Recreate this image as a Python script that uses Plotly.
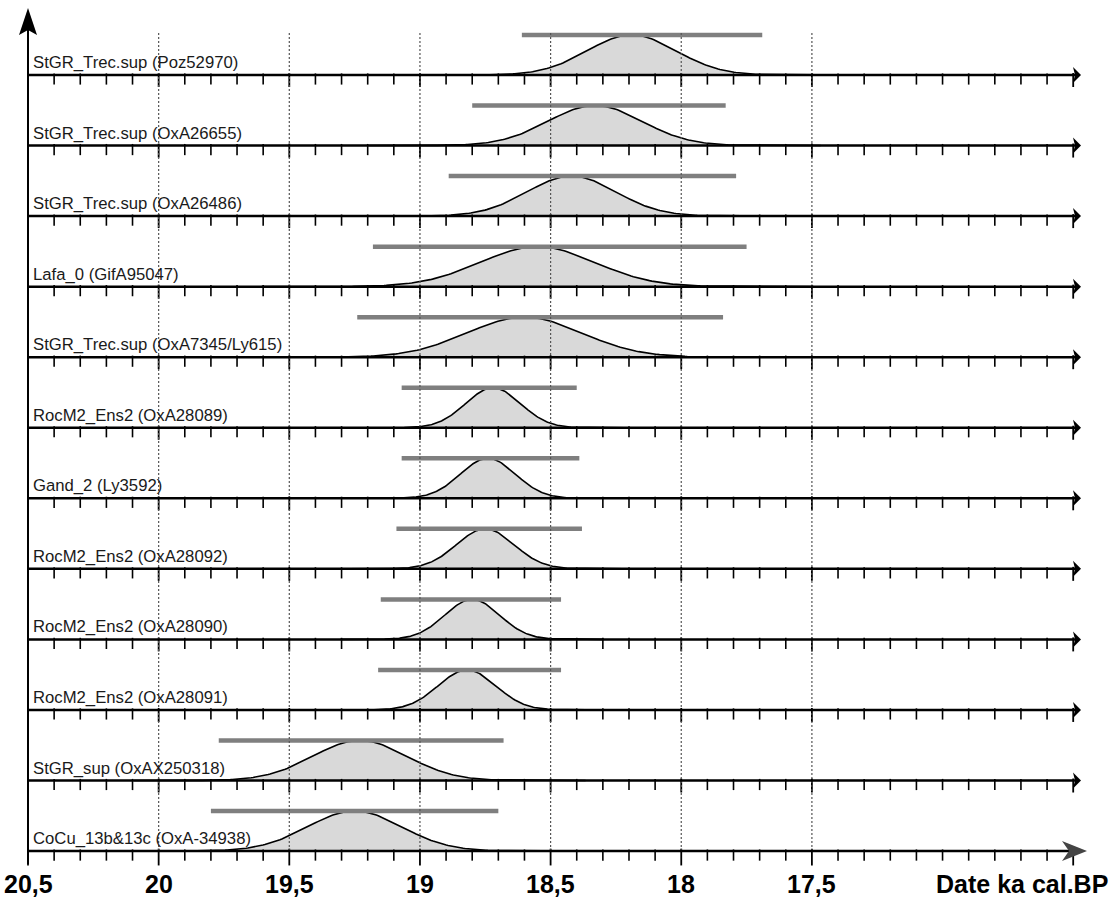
import numpy as np
import plotly.graph_objects as go

# ---------------- data ----------------
labels = [
    "StGR_Trec.sup (Poz52970)",
    "StGR_Trec.sup (OxA26655)",
    "StGR_Trec.sup (OxA26486)",
    "Lafa_0 (GifA95047)",
    "StGR_Trec.sup (OxA7345/Ly615)",
    "RocM2_Ens2 (OxA28089)",
    "Gand_2 (Ly3592)",
    "RocM2_Ens2 (OxA28092)",
    "RocM2_Ens2 (OxA28090)",
    "RocM2_Ens2 (OxA28091)",
    "StGR_sup (OxAX250318)",
    "CoCu_13b&13c (OxA-34938)",
]
centers = [18.19, 18.33, 18.42, 18.55, 18.60, 18.72, 18.74, 18.75, 18.80, 18.82, 19.23, 19.25]
sigmas = [0.17, 0.18, 0.17, 0.22, 0.22, 0.105, 0.105, 0.11, 0.105, 0.11, 0.18, 0.18]
range_old = [18.61, 18.80, 18.89, 19.18, 19.24, 19.07, 19.07, 19.09, 19.15, 19.16, 19.77, 19.80]
range_young = [17.69, 17.83, 17.79, 17.75, 17.84, 18.40, 18.39, 18.38, 18.46, 18.46, 18.68, 18.70]

major_ticks = [20.5, 20.0, 19.5, 19.0, 18.5, 18.0, 17.5]
major_tick_text = ["20,5", "20", "19,5", "19", "18,5", "18", "17,5"]
grid_vals = [20.0, 19.5, 19.0, 18.5, 18.0, 17.5]
long_tick_vals = [20.5, 20.0, 19.5, 19.0, 18.5, 18.0, 17.5, 16.5]
axis_title = "Date ka cal.BP"

# ---------------- layout helpers ----------------
W, H = 1115, 901
PX0 = 28.0      # pixel of 20.5 ka
PPK = 261.3     # pixels per ka


def vx(px):
    return 20.5 - (px - PX0) / PPK


def Y(py):
    return H - py


base_py = [75 + 70.55 * k for k in range(len(labels))]
PEAK = 40
FONT = "Liberation Sans, Arial, sans-serif"

fig = go.Figure()
shapes = []
annotations = []

# density curves
for k, (c, s) in enumerate(zip(centers, sigmas)):
    b = Y(base_py[k])
    xs = np.linspace(c - 4.8 * s, c + 4.8 * s, 240)
    ys = b + PEAK * np.exp(-0.5 * ((xs - c) / s) ** 2)
    fig.add_trace(go.Scatter(
        x=np.r_[xs[0], xs, xs[-1]], y=np.r_[b, ys, b],
        mode="lines", fill="toself", fillcolor="#d9d9d9",
        line=dict(color="black", width=1.6), hoverinfo="skip"))

# range bars
for k in range(len(labels)):
    b = Y(base_py[k])
    fig.add_trace(go.Scatter(
        x=[range_old[k], range_young[k]], y=[b + PEAK, b + PEAK],
        mode="lines", line=dict(color="#7f7f7f", width=4.5), hoverinfo="skip"))

# ticks on every baseline, drawn as vertical-line markers
minor_vals = [round(20.5 - 0.1 * i, 1) for i in range(0, 41)]
last = len(labels) - 1
sx, sy, lx, ly, bx, by = [], [], [], [], [], []
for k in range(len(labels)):
    b = Y(base_py[k])
    for v in minor_vals:
        if any(abs(v - m) < 1e-6 for m in long_tick_vals):
            if k == last:
                bx.append(v)
                by.append(b - 6)
            else:
                lx.append(v)
                ly.append(b - 5)
        else:
            sx.append(v)
            sy.append(b - 4)
for xx, yy, size, wd in ((sx, sy, 8, 1.6), (lx, ly, 10, 1.8), (bx, by, 12, 1.8)):
    fig.add_trace(go.Scatter(
        x=xx, y=yy, mode="markers", hoverinfo="skip",
        marker=dict(symbol="line-ns", size=size, color="black",
                    line=dict(color="black", width=wd))))

# dotted reference lines
for v in grid_vals:
    shapes.append(dict(type="line", xref="x", yref="y", x0=v, x1=v,
                       y0=Y(851), y1=Y(32), layer="above",
                       line=dict(color="#555555", width=1.2, dash="2px,2px")))

# baselines + arrowheads
for k in range(len(labels)):
    b = Y(base_py[k])
    if k == last:
        shapes.append(dict(type="line", xref="x", yref="y", x0=20.5, x1=vx(1070),
                           y0=b, y1=b, line=dict(color="black", width=2.5)))
        shapes.append(dict(type="path", xref="x", yref="y", xsizemode="pixel",
                           ysizemode="pixel", xanchor=vx(1087), yanchor=b,
                           path="M0,0 L-25,10 L-18,0 L-25,-10 Z",
                           fillcolor="#444444", line=dict(width=0)))
    else:
        shapes.append(dict(type="line", xref="x", yref="y", x0=20.5, x1=vx(1076),
                           y0=b, y1=b, line=dict(color="black", width=2.5)))
        shapes.append(dict(type="path", xref="x", yref="y", xsizemode="pixel",
                           ysizemode="pixel", xanchor=vx(1081), yanchor=b,
                           path="M0,0 L-8,8 L-6,0 L-8,-8 Z",
                           fillcolor="black", line=dict(width=0)))

# left vertical axis with arrow
shapes.append(dict(type="line", xref="x", yref="y", x0=20.5, x1=20.5,
                   y0=Y(864), y1=Y(26), line=dict(color="black", width=2)))
shapes.append(dict(type="path", xref="x", yref="y", xsizemode="pixel",
                   ysizemode="pixel", xanchor=20.5, yanchor=Y(8),
                   path="M0,0 L-9,-27 L0,-22 L9,-27 Z",
                   fillcolor="black", line=dict(width=0)))

# row labels
for k, lab in enumerate(labels):
    b = Y(base_py[k])
    annotations.append(dict(x=vx(31), y=b + 1, xref="x", yref="y", text=lab,
                            showarrow=False, xanchor="left", yanchor="bottom",
                            font=dict(family=FONT, size=16.7, color="#1a1a1a")))

# axis tick labels
for v, t in zip(major_ticks, major_tick_text):
    annotations.append(dict(x=v, y=Y(884), xref="x", yref="y", text="<b>" + t + "</b>",
                            showarrow=False, xanchor="center", yanchor="middle",
                            font=dict(family=FONT, size=25, color="black")))
annotations.append(dict(x=1110 / W, y=Y(884), xref="paper", yref="y",
                        text="<b>" + axis_title + "</b>", showarrow=False,
                        xanchor="right", yanchor="middle",
                        font=dict(family=FONT, size=25, color="black")))

fig.update_layout(
    width=W, height=H,
    margin=dict(l=0, r=0, t=0, b=0),
    paper_bgcolor="white", plot_bgcolor="white",
    showlegend=False,
    xaxis=dict(range=[vx(0), vx(W)], visible=False, fixedrange=True),
    yaxis=dict(range=[0, H], visible=False, fixedrange=True),
    shapes=shapes, annotations=annotations,
)

fig.write_html(
    "out.html",
    config={"displayModeBar": False},
    post_script="document.body.style.margin='0px';document.body.style.padding='0px';"
                "document.body.style.overflow='hidden';",
)
